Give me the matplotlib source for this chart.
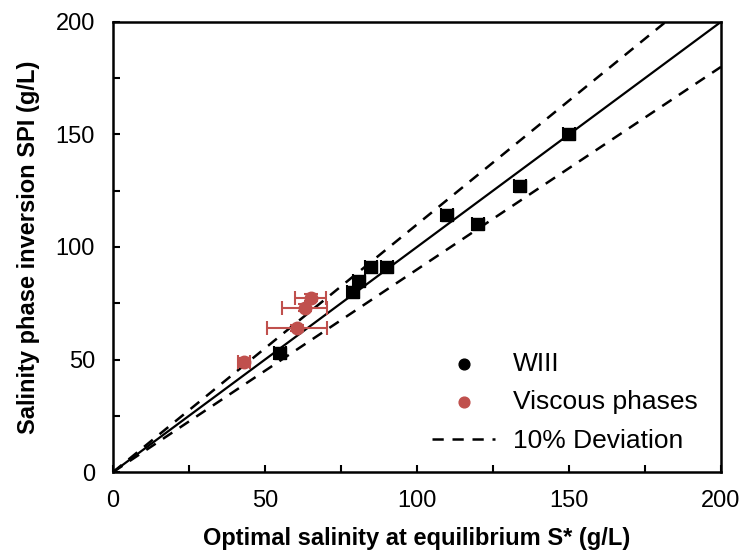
import numpy as np
import matplotlib.pyplot as plt
from matplotlib.ticker import MultipleLocator, FuncFormatter

plt.rcParams['font.family'] = ['Liberation Sans', 'DejaVu Sans']

# WIII points
wiii_x = [55, 79, 81, 85, 90, 110, 120, 134, 150]
wiii_y = [53, 80, 85, 91, 91, 114, 110, 127, 150]
wiii_xerr = [2, 2, 2, 2, 2, 2, 2, 2, 2]
wiii_yerr = [1.5, 1.5, 1.5, 1.5, 1.5, 1.5, 1.5, 1.5, 1.5]

# viscous phases
visc_x = [43, 60.5, 63, 65]
visc_y = [49, 64, 73, 77.5]
visc_xerr = [2, 10, 7.5, 5]
visc_yerr = [1.5, 1.5, 1.5, 1.5]

line_x = [0, 200]
upper_x = [0, 181.8]

red = '#C0504D'

fig = plt.figure(figsize=(7.46, 5.6), dpi=100)
ax = fig.add_axes([0.1515, 0.157, 0.815, 0.804])

ax.plot(line_x, line_x, '-', color='black', lw=1.6, zorder=2)
ax.plot(upper_x, [1.1 * v for v in upper_x], '--', color='black', lw=1.8,
        dashes=(4.5, 3.5), zorder=2, label='10% Deviation')
ax.plot(line_x, [0.9 * v for v in line_x], '--', color='black', lw=1.8,
        dashes=(4.5, 3.5), zorder=2)

ax.errorbar(wiii_x, wiii_y, xerr=wiii_xerr, yerr=wiii_yerr, fmt='s',
            color='black', ms=9, capsize=5, elinewidth=1.5, capthick=1.5,
            zorder=3)
ax.errorbar(visc_x, visc_y, xerr=visc_xerr, yerr=visc_yerr, fmt='o',
            color=red, ms=9, capsize=5, elinewidth=1.5, capthick=1.5,
            zorder=3)

# legend handles
h1 = ax.scatter([], [], s=60, color='black', label='WIII')
h2 = ax.scatter([], [], s=60, color=red, label='Viscous phases')
h3 = ax.get_lines()[1]
ax.legend(handles=[h1, h2, h3], loc='lower right', frameon=False,
          fontsize=19, bbox_to_anchor=(1.0, -0.01), handlelength=2.4,
          labelspacing=0.55, handletextpad=0.65)

ax.set_xlim(0, 200)
ax.set_ylim(0, 200)
ax.xaxis.set_major_locator(MultipleLocator(25))
ax.yaxis.set_major_locator(MultipleLocator(25))
fmt = FuncFormatter(lambda v, p: '%d' % v if v % 50 == 0 else '')
ax.xaxis.set_major_formatter(fmt)
ax.yaxis.set_major_formatter(fmt)
ax.tick_params(direction='in', length=5, width=1.5, labelsize=17, pad=13)

for s in ax.spines.values():
    s.set_linewidth(1.8)

ax.set_xlabel('Optimal salinity at equilibrium S* (g/L)', fontsize=17,
              fontweight='bold', labelpad=11)
ax.set_ylabel('Salinity phase inversion SPI (g/L)', fontsize=17,
              fontweight='bold', labelpad=11)

fig.savefig('out.png', dpi=100)
